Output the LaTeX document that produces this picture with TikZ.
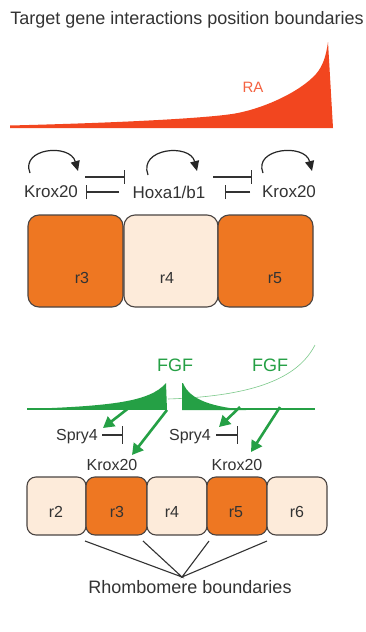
\documentclass[tikz,border=0pt]{standalone}
\usepackage{fontspec}
\setmainfont{Liberation Sans}
\usetikzlibrary{arrows.meta}
\definecolor{orangebox}{HTML}{EE7722}
\definecolor{peach}{HTML}{FDEBDA}
\definecolor{boxline}{HTML}{4A4442}
\definecolor{ragrad}{HTML}{F2461F}
\definecolor{fgfgreen}{HTML}{25A045}
\definecolor{lightgreen}{HTML}{7CC98A}
\definecolor{txt}{HTML}{333333}
\begin{document}
\begin{tikzpicture}[x=1pt,y=-1pt,
  lbl/.style={inner sep=0pt,text=txt,font=\fontsize{17}{19}\selectfont},
  title/.style={inner sep=0pt,text=txt,font=\fontsize{18}{20}\selectfont},
  rbox/.style={draw=boxline,line width=1.1pt,rounded corners=11pt},
  obox/.style={rbox,fill=orangebox},
  pbox/.style={rbox,fill=peach},
  rlbl/.style={inner sep=0pt,text=txt,font=\fontsize{16}{18}\selectfont},
  loop/.style={line width=1.2pt,draw=black!85,-{Triangle[length=10pt,width=9pt]}},
  inhib/.style={line width=1.1pt,draw=txt,-{Bar[width=14pt,line width=1.1pt]}},
  garrow/.style={line width=2.6pt,draw=fgfgreen,-{Triangle[length=11pt,width=12pt]}},
  ginhib/.style={line width=1.1pt,draw=txt,-{Bar[width=18pt,line width=1.1pt]}},
  bline/.style={line width=1.1pt,draw=txt}
]
\useasboundingbox[fill=white] (0,0) rectangle (366,632);

% title
\node[title] (title) at (187,20) {Target gene interactions position boundaries};

% RA gradient
\fill[ragrad] (10,128) -- (10,125.5) .. controls (150,122) and (212,117) .. (232,114)
  .. controls (262,109.5) and (300,92) .. (316,74)
  .. controls (323,66) and (326,56) .. (328,42) -- (333,128) -- cycle;
\node[lbl,text=ragrad!85!white,font=\fontsize{15}{17}\selectfont] (ra) at (253,87) {RA};

% top gene network
\node[lbl] (k1) at (51,192) {Krox20};
\node[lbl] (h) at (169,192) {Hoxa1/b1};
\node[lbl] (k2) at (289,192) {Krox20};

\draw[loop] (30,173) .. controls (20,148) and (70,143) .. (78,171);
\draw[loop] (148,175) .. controls (138,148) and (190,143) .. (197,171);
\draw[loop] (263,173) .. controls (253,148) and (305,143) .. (312,171);

\coordinate (i1a) at (85,177); \coordinate (i1b) at (125,177);
\coordinate (i2a) at (119,192); \coordinate (i2b) at (86,192);
\coordinate (i3a) at (213,177); \coordinate (i3b) at (252,177);
\coordinate (i4a) at (250,192); \coordinate (i4b) at (225,192);
\draw[inhib] (i1a) -- (i1b);
\draw[inhib] (i2a) -- (i2b);
\draw[inhib] (i3a) -- (i3b);
\draw[inhib] (i4a) -- (i4b);

% top boxes
\draw[obox] (28,215) rectangle (123,307);
\draw[pbox] (124,215) rectangle (218,307);
\draw[obox] (218,215) rectangle (313,307);
\node[rlbl] (t3) at (82,278) {r3};
\node[rlbl] (t4) at (167,278) {r4};
\node[rlbl] (t5) at (275,278) {r5};

% FGF section
\node[title,text=fgfgreen] (fgf1) at (175,365) {FGF};
\node[title,text=fgfgreen] (fgf2) at (270,365) {FGF};
\draw[lightgreen,line width=0.6pt] (168,399) .. controls (255,396) and (298,378) .. (315,345);
\draw[fgfgreen,line width=2.6pt] (27,409) -- (167,409);
\draw[fgfgreen,line width=2.6pt] (182,409) -- (315,409);
\fill[fgfgreen] (27,409) .. controls (110,406) and (150,402) .. (166,383) -- (167,410) -- cycle;
\fill[fgfgreen] (182,383) -- (182,410) -- (246,410) .. controls (215,407) and (190,401) .. (183,383) -- cycle;

\node[lbl,font=\fontsize{16}{18}\selectfont] (s1) at (77,437) {Spry4};
\node[lbl,font=\fontsize{16}{18}\selectfont] (s2) at (190,437) {Spry4};
\node[lbl,font=\fontsize{16}{18}\selectfont] (kk1) at (112,465) {Krox20};
\node[lbl,font=\fontsize{16}{18}\selectfont] (kk2) at (237,465) {Krox20};

\coordinate (g1) at (130,407); \coordinate (g1t) at (103,428);
\coordinate (g2) at (167,410); \coordinate (g2t) at (132,455);
\coordinate (g3) at (240,407); \coordinate (g3t) at (219,427);
\coordinate (g4) at (280,407); \coordinate (g4t) at (251,452);
\draw[garrow] (g1) -- (g1t);
\draw[garrow] (g2) -- (g2t);
\draw[garrow] (g3) -- (g3t);
\draw[garrow] (g4) -- (g4t);

\coordinate (si1a) at (102,435); \coordinate (si1b) at (123,435);
\coordinate (si2a) at (216,435); \coordinate (si2b) at (238,435);
\draw[ginhib] (si1a) -- (si1b);
\draw[ginhib] (si2a) -- (si2b);

% bottom boxes
\draw[pbox,rounded corners=9pt] (27,477) rectangle (86,535);
\draw[obox,rounded corners=9pt] (86,477) rectangle (147,535);
\draw[pbox,rounded corners=9pt] (147,477) rectangle (207,535);
\draw[obox,rounded corners=9pt] (207,477) rectangle (267,535);
\draw[pbox,rounded corners=9pt] (267,477) rectangle (327,535);
\node[rlbl] (b2) at (56,512) {r2};
\node[rlbl] (b3) at (117,512) {r3};
\node[rlbl] (b4) at (172,512) {r4};
\node[rlbl] (b5) at (236,512) {r5};
\node[rlbl] (b6) at (297,512) {r6};

% boundaries
\coordinate (apex) at (182,577);
\coordinate (bd1) at (85,541);
\coordinate (bd2) at (143,541);
\coordinate (bd3) at (209,541);
\coordinate (bd4) at (267,541);
\draw[bline] (bd1) -- (apex) -- (bd2);
\draw[bline] (bd3) -- (apex) -- (bd4);
\node[title] (rb) at (190,587) {Rhombomere boundaries};
\end{tikzpicture}
\end{document}
